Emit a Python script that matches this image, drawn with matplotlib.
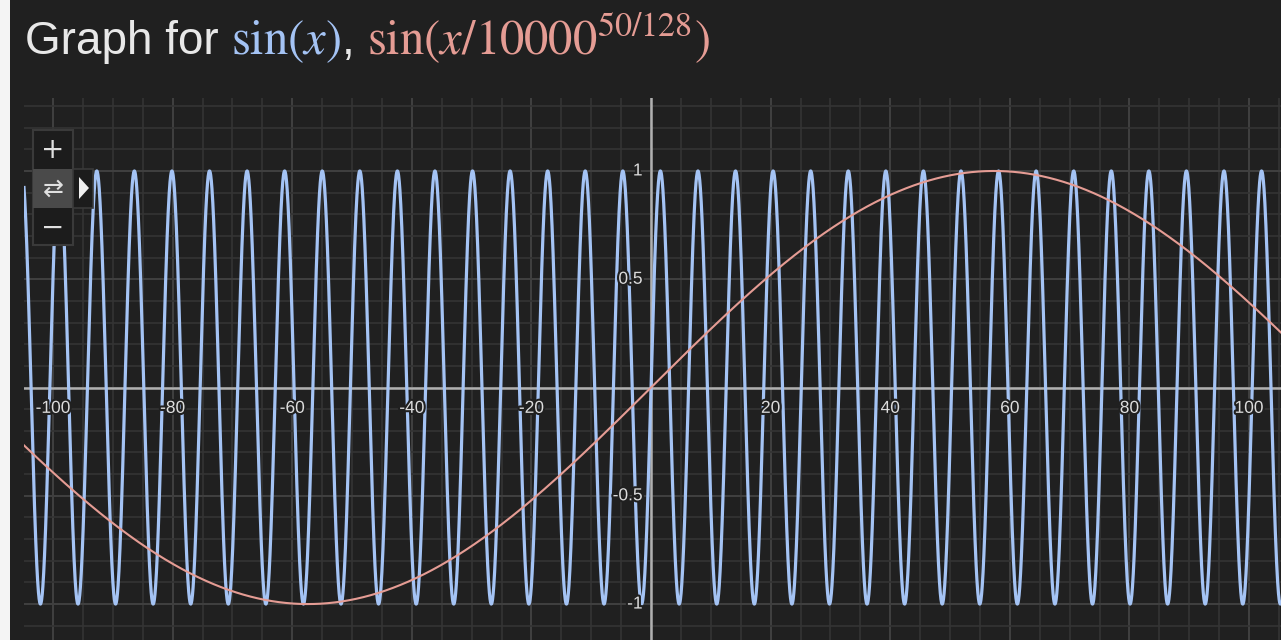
import numpy as np
import matplotlib
matplotlib.use("Agg")
import matplotlib.pyplot as plt
import matplotlib.patheffects as pe
from matplotlib.patches import Rectangle, Polygon

matplotlib.rcParams["mathtext.fontset"] = "stix"

# curve definitions: sin(x) and sin(x / 10000^(50/128))
BASE = 10000
EXP_NUM = 50
EXP_DEN = 128
X_RANGE = [-104.85, 105.35]
Y_RANGE = [-1.166, 1.337]
X_TICKS = [-100, -80, -60, -40, -20, 20, 40, 60, 80, 100]
Y_TICKS = [1, 0.5, -0.5, -1]
Y_TICK_LABELS = ["1", "0.5", "-0.5", "-1"]

BG = "#202020"
BLUE = "#a4c3f4"
PINK = "#e59c94"
TEXT = "#e8e8e8"

x = np.linspace(X_RANGE[0], X_RANGE[1], 6000)
y_fast = np.sin(x)
y_slow = np.sin(x / BASE ** (EXP_NUM / EXP_DEN))

W, H = 1281, 640
fig = plt.figure(figsize=(W / 100, H / 100), dpi=100)
fig.patch.set_facecolor(BG)
# thin light strip on the left edge
fig.add_artist(Rectangle((0, 0), 10 / W, 1, transform=fig.transFigure,
                         facecolor="#f4f4f4", edgecolor="none"))

ax = fig.add_axes([24 / W, 0, 1 - 24 / W, (640 - 98) / H])
ax.set_facecolor(BG)
ax.set_xlim(*X_RANGE)
ax.set_ylim(*Y_RANGE)
for s in ax.spines.values():
    s.set_visible(False)
ax.set_xticks([])
ax.set_yticks([])

# grid: fine every 5 / 0.1, brighter every 20 / 0.5
for gx in np.arange(-105, 106, 5):
    major = gx % 20 == 0
    ax.axvline(gx, color="#404040" if major else "#343434", lw=1.4 if major else 1.2, zorder=0)
for gy in np.arange(-1.1, 1.35, 0.1):
    gy = round(gy, 1)
    major = abs(gy * 2 - round(gy * 2)) < 1e-6
    ax.axhline(gy, color="#404040" if major else "#343434", lw=1.4 if major else 1.2, zorder=0)

ax.axhline(0, color="#b0b0b0", lw=1.8, zorder=1)
ax.axvline(0, color="#b0b0b0", lw=1.8, zorder=1)

ax.plot(x, y_fast, color=BLUE, lw=2.3, zorder=3, solid_joinstyle="round")
ax.plot(x, y_slow, color=PINK, lw=1.5, zorder=4)

halo = [pe.withStroke(linewidth=3, foreground=BG)]
for t in X_TICKS:
    ax.annotate(str(t), (t, 0), xytext=(0, -15), textcoords="offset points",
                ha="center", va="center", color="#dcdcdc", fontsize=12.5,
                family="Liberation Sans", path_effects=halo, zorder=6)
for v, lab in zip(Y_TICKS, Y_TICK_LABELS):
    ax.annotate(lab, (0, v), xytext=(-6, 0), textcoords="offset points",
                ha="right", va="center", color="#dcdcdc", fontsize=12.5,
                family="Liberation Sans", path_effects=halo, zorder=6)

# zoom control widget in the top-left corner
def px(xp, yp):
    return xp / W, 1 - yp / H

box = dict(transform=fig.transFigure, zorder=10)
fig.add_artist(Rectangle(px(33, 245), 40 / W, 115 / H, facecolor="#1c1c1c",
                         edgecolor="#3a3a3a", lw=1.5, **box))
fig.add_artist(Rectangle(px(33, 208), 40 / W, 39 / H, facecolor="#4a4a4a",
                         edgecolor="none", **box))
fig.add_artist(Rectangle(px(73, 208), 20 / W, 39 / H, facecolor="#1c1c1c",
                         edgecolor="#3a3a3a", lw=1.2, **box))
fig.add_artist(Polygon([px(79, 177), px(79, 199), px(89, 188)], closed=True,
                       facecolor="#f0f0f0", edgecolor="none", **box))
fig.text(*px(53, 150), "+", color="#e0e0e0", fontsize=20, ha="center", va="center",
         family="DejaVu Sans", zorder=11)
fig.text(*px(53, 189), "\u21c4", color="#e0e0e0", fontsize=18, ha="center", va="center",
         family="DejaVu Sans", zorder=11)
fig.text(*px(53, 228), "\u2212", color="#e0e0e0", fontsize=20, ha="center", va="center",
         family="DejaVu Sans", zorder=11)

# title assembled from pieces so each formula keeps its own colour
fig.canvas.draw()
renderer = fig.canvas.get_renderer()
pieces = [
    ("Graph for ", TEXT, "Liberation Sans", 33),
    (r"$\mathrm{sin}(x)$", BLUE, "serif", 35),
    (", ", TEXT, "Liberation Sans", 33),
    (r"$\mathrm{sin}(x/%d^{%d/%d})$" % (BASE, EXP_NUM, EXP_DEN), PINK, "serif", 35),
]
cur = 25 / W
base_y = 1 - 54 / H
for s, col, fam, size in pieces:
    t = fig.text(cur, base_y, s, color=col, fontsize=size, family=fam,
                 ha="left", va="baseline")
    bb = t.get_window_extent(renderer)
    cur = bb.x1 / W

fig.savefig("out.png", dpi=100, facecolor=BG)
